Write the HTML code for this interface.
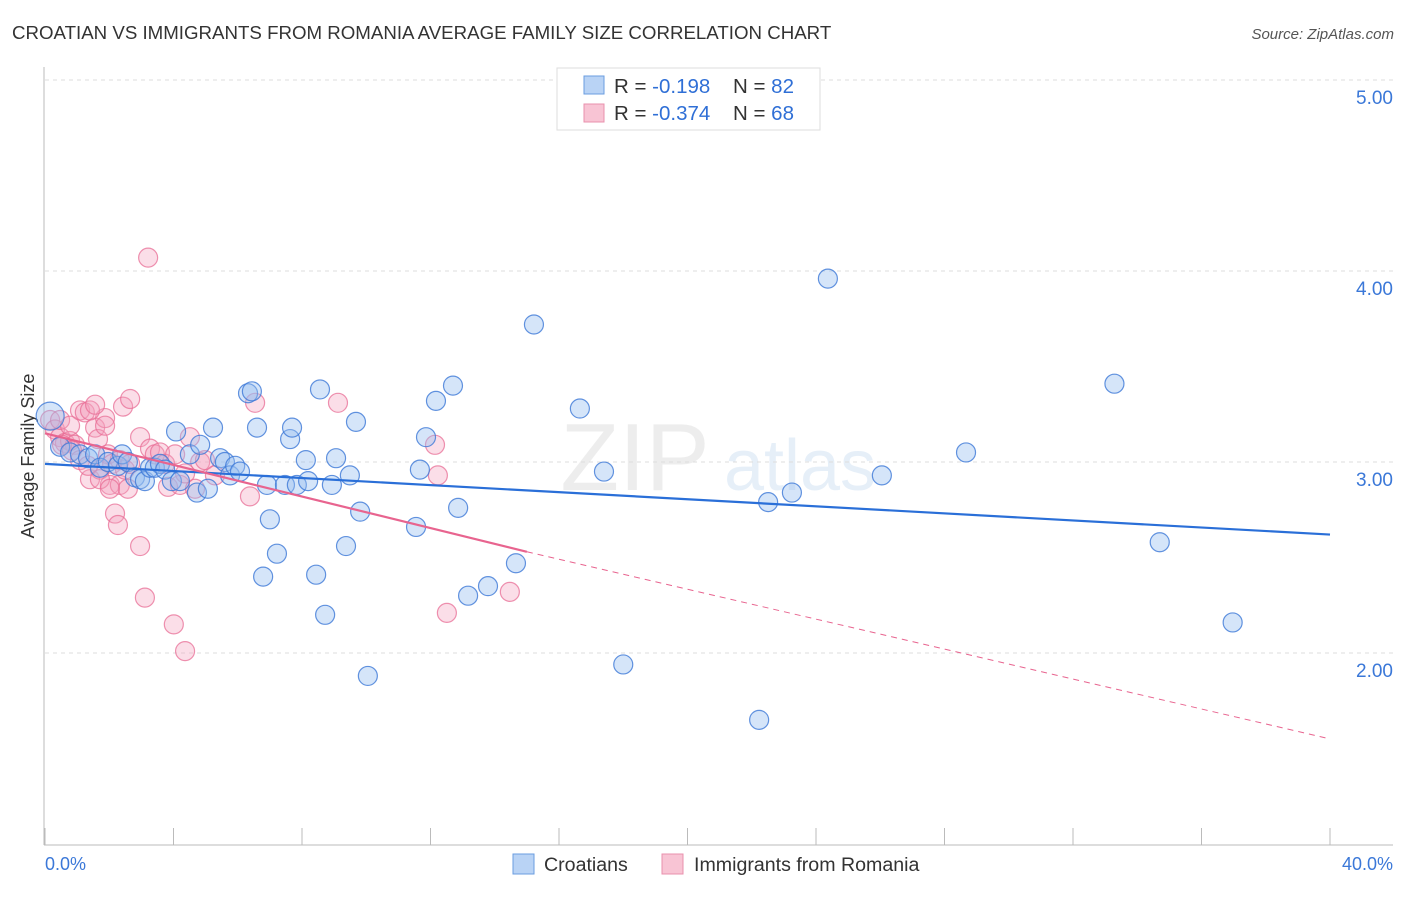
<!DOCTYPE html>
<html><head><meta charset="utf-8"><style>
body{margin:0;background:#fff;font-family:"Liberation Sans",sans-serif;}
svg text{font-family:"Liberation Sans",sans-serif;}
</style></head><body>
<svg width="1406" height="892" xmlns="http://www.w3.org/2000/svg">
<text x="12" y="39" font-size="18.7" fill="#333">CROATIAN VS IMMIGRANTS FROM ROMANIA AVERAGE FAMILY SIZE CORRELATION CHART</text>
<text x="1394" y="39" font-size="15" fill="#555" font-style="italic" text-anchor="end">Source: ZipAtlas.com</text>
<g opacity="0.5">
<text x="635" y="490" font-size="96" fill="#ddd" font-family="Liberation Serif" text-anchor="middle">ZIP</text>
<text x="800" y="490" font-size="72" fill="#cfe0f3" text-anchor="middle">atlas</text>
</g>
<g id="grid"></g>
<line x1="44" y1="67" x2="44" y2="845" stroke="#bbb"/>
<line x1="44" y1="845" x2="1393" y2="845" stroke="#bbb"/>
<g id="xticks"></g>
<g id="yticks"></g>
<text x="34" y="456" font-size="18" fill="#333" text-anchor="middle" transform="rotate(-90 34 456)">Average Family Size</text>
<text x="45" y="870" font-size="18" fill="#3b78d8">0.0%</text>
<text x="1393" y="870" font-size="18" fill="#3b78d8" text-anchor="end">40.0%</text>
<g id="pink"></g>
<g id="blue"></g>
<g id="trends"></g>
<g>
<rect x="557" y="68" width="263" height="62" fill="#fff" stroke="#ddd"/>
<rect x="584" y="76" width="20" height="18" fill="#b9d3f5" stroke="#6a9de0"/>
<rect x="584" y="104" width="20" height="18" fill="#f8c4d4" stroke="#e990ad"/>
<text x="614" y="93" font-size="20.5" fill="#333">R = <tspan fill="#2f6fd6">-0.198</tspan><tspan x="733">N = </tspan><tspan fill="#2f6fd6">82</tspan></text>
<text x="614" y="120" font-size="20.5" fill="#333">R = <tspan fill="#2f6fd6">-0.374</tspan><tspan x="733">N = </tspan><tspan fill="#2f6fd6">68</tspan></text>
</g>
<g>
<rect x="513" y="854" width="21" height="20" fill="#b9d3f5" stroke="#6a9de0"/>
<text x="544" y="871" font-size="19.6" fill="#333">Croatians</text>
<rect x="662" y="854" width="21" height="20" fill="#f8c4d4" stroke="#e990ad"/>
<text x="694" y="871" font-size="19.6" fill="#333">Immigrants from Romania</text>
</g>
</svg>
<script>
const NS="http://www.w3.org/2000/svg";
const yTicks=[2,3,4,5];
const yTickLabels=["2.00","3.00","4.00","5.00"];
const xTickCount=10;
const blueX=[0.16,0.47,0.78,1.09,1.34,1.56,1.71,1.96,2.27,2.40,2.58,2.80,2.96,3.11,3.27,3.42,3.58,3.74,4.08,3.95,4.20,4.51,4.73,4.83,5.07,5.23,5.45,5.60,5.76,5.92,6.07,6.32,6.44,6.60,6.91,7.00,7.22,6.79,7.47,7.63,7.69,7.84,8.12,8.19,8.44,8.56,8.72,8.93,9.06,9.37,9.49,9.68,9.81,10.05,11.55,11.67,11.86,12.17,12.70,12.86,13.17,13.79,14.66,15.22,16.65,17.40,18.00,22.23,22.51,23.25,24.37,26.05,28.67,33.29,34.70,36.97];
const blueY=[3.24,3.08,3.05,3.04,3.02,3.04,2.97,3.00,2.98,3.04,3.00,2.92,2.91,2.90,2.97,2.97,2.99,2.96,3.16,2.90,2.90,3.04,2.84,3.09,2.86,3.18,3.02,3.00,2.93,2.98,2.95,3.36,3.37,3.18,2.88,2.70,2.52,2.40,2.88,3.12,3.18,2.88,3.01,2.90,2.41,3.38,2.20,2.88,3.02,2.56,2.93,3.21,2.74,1.88,2.66,2.96,3.13,3.32,3.40,2.76,2.30,2.35,2.47,3.72,3.28,2.95,1.94,1.65,2.79,2.84,3.96,2.93,3.05,3.41,2.58,2.16];
const pinkX=[0.16,0.31,0.47,0.62,0.78,0.93,1.09,1.24,1.40,1.56,1.65,1.71,1.87,1.96,2.02,2.09,2.18,2.27,2.33,2.43,2.58,2.65,2.96,2.96,3.11,3.21,3.27,3.42,3.58,3.83,4.01,4.20,4.36,4.51,4.67,4.83,6.38,6.54,9.12,12.14,12.23,12.51,14.47,0.47,0.78,1.40,1.56,1.87,0.53,0.84,1.09,1.34,2.33,2.49,1.71,2.02,2.65,3.74,4.05,4.36,4.98,5.29];
const pinkY=[3.22,3.17,3.13,3.10,3.11,3.09,3.27,3.26,2.91,3.18,3.12,2.96,3.23,3.04,2.88,2.99,2.73,2.67,2.88,3.29,2.86,3.33,2.56,3.13,2.29,4.07,3.07,3.04,3.05,2.87,2.15,2.88,2.01,3.13,2.86,3.00,2.82,3.31,3.31,3.09,2.93,2.21,2.32,3.22,3.19,3.27,3.30,3.19,3.09,3.06,3.01,2.98,3.01,2.96,2.91,2.86,2.99,2.99,3.04,2.94,3.01,2.93];
const blueTrend=[0,2.99,40,2.62];
const pinkTrend=[0,3.15,15,2.53,40,1.55];
const X=v=>45+v/40*1285;
const Y=v=>462-(v-3)*191;
function mk(tag,attrs,parent){const e=document.createElementNS(NS,tag);for(const k in attrs)e.setAttribute(k,attrs[k]);parent.appendChild(e);return e;}
const grid=document.getElementById('grid'),yt=document.getElementById('yticks'),xt=document.getElementById('xticks');
yTicks.forEach((t,i)=>{
 const l=mk('line',{x1:45,x2:1393,y1:Y(t),y2:Y(t),stroke:'#ddd','stroke-dasharray':'4,4'},grid);
 
 
 const tx=mk('text',{x:1393,y:Y(t)+24,'font-size':19,fill:'#3b78d8','text-anchor':'end'},yt);
 tx.textContent=yTickLabels[i];
 
 
});
for(let i=0;i<=xTickCount;i++){
 const x=X(i*40/xTickCount);
 const l=mk('line',{x1:x,x2:x,y1:828,y2:845,stroke:'#bbb'},xt);
 
 
}
const pg=document.getElementById('pink');
pinkX.forEach((v,i)=>{
 const c=mk('circle',{cx:X(v),cy:Y(pinkY[i]),r:9.5,fill:'rgba(244,160,190,0.35)',stroke:'rgba(232,110,150,0.75)','stroke-width':1.2},pg);
 
 
});
const bg=document.getElementById('blue');
blueX.forEach((v,i)=>{
 const c=mk('circle',{cx:X(v),cy:Y(blueY[i]),r:i==0?14:9.5,fill:'rgba(150,190,240,0.4)',stroke:'rgba(60,120,215,0.8)','stroke-width':1.2},bg);
 
 
});
const tg=document.getElementById('trends');
const b=mk('line',{x1:X(blueTrend[0]),y1:Y(blueTrend[1]),x2:X(blueTrend[2]),y2:Y(blueTrend[3]),stroke:'#2a6fd8','stroke-width':2.2},tg);


const p1=mk('line',{x1:X(pinkTrend[0]),y1:Y(pinkTrend[1]),x2:X(pinkTrend[2]),y2:Y(pinkTrend[3]),stroke:'#e8648f','stroke-width':2.2},tg);


const p2=mk('line',{x1:X(pinkTrend[2]),y1:Y(pinkTrend[3]),x2:X(pinkTrend[4]),y2:Y(pinkTrend[5]),stroke:'#e8648f','stroke-width':1,'stroke-dasharray':'6,5'},tg);


</script>
</body></html>
